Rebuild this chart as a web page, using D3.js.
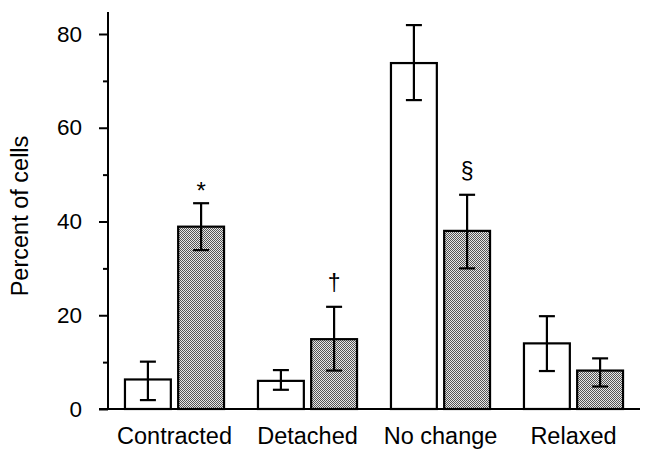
<!DOCTYPE html>
<html><head><meta charset="utf-8">
<script src="https://cdn.jsdelivr.net/npm/d3@7"></script>
<style>body{margin:0;background:#fff}svg{display:block}text{font-family:"Liberation Sans",Arial,sans-serif;fill:#000}</style>
</head><body><svg id="c" width="647" height="449"></svg>
<script>
const categories = ["Contracted", "Detached", "No change", "Relaxed"];
const series = ["control", "treated"];
const controlValues = [6.3, 6.0, 73.8, 14.0];
const controlLow = [1.9, 4.1, 65.9, 8.1];
const controlHigh = [10.1, 8.3, 81.9, 19.8];
const treatedValues = [38.9, 14.9, 38.0, 8.2];
const treatedLow = [33.9, 8.2, 30.0, 4.8];
const treatedHigh = [43.9, 21.8, 45.7, 10.8];
const markers = ["*", "\u2020", "\u00a7", ""];
const yTicks = [0, 20, 40, 60, 80];
const yMinorTicks = [10, 30, 50, 70];

const svg = d3.select("#c");
const defs = svg.append("defs");
const pat = defs.append("pattern").attr("id", "stip").attr("width", 2).attr("height", 2).attr("patternUnits", "userSpaceOnUse");
pat.append("rect").attr("width", 2).attr("height", 2).attr("fill", "#e8e8e8");
pat.append("rect").attr("x", 0).attr("y", 0).attr("width", 1).attr("height", 1).attr("fill", "#555");
pat.append("rect").attr("x", 1).attr("y", 1).attr("width", 1).attr("height", 1).attr("fill", "#555");

const x0 = d3.scaleBand().domain(categories).range([108, 640]).paddingInner(0.24).paddingOuter(0.12);
const x1 = d3.scaleBand().domain(series).range([0, x0.bandwidth()]).paddingInner(0.1);
const y = d3.scaleLinear().domain([0, 80]).range([409, 34]);

const data = categories.flatMap((c, i) => [
  {cat: c, s: "control", v: controlValues[i], lo: controlLow[i], hi: controlHigh[i]},
  {cat: c, s: "treated", v: treatedValues[i], lo: treatedLow[i], hi: treatedHigh[i], m: markers[i]}
]);

// axes
const yAxis = d3.axisLeft(y).tickValues(yTicks).tickSize(9).tickPadding(17).tickFormat(d3.format("d"));
const ga = svg.append("g").attr("transform", "translate(108,0)").call(yAxis);
ga.select(".domain").remove();
ga.selectAll(".tick line").attr("stroke", "#000").attr("stroke-width", 2);
ga.selectAll(".tick text").style("font-size", "22.5px").attr("fill", "#000");
const gm = svg.append("g").attr("transform", "translate(108,0)")
  .call(d3.axisLeft(y).tickValues(yMinorTicks).tickSize(5).tickFormat(""));
gm.select(".domain").remove();
gm.selectAll(".tick line").attr("stroke", "#000").attr("stroke-width", 2);

svg.append("line").attr("x1", 108).attr("x2", 108).attr("y1", 12).attr("y2", y(0) + 1).attr("stroke", "#000").attr("stroke-width", 2);
svg.append("line").attr("x1", 99).attr("x2", 640).attr("y1", y(0)).attr("y2", y(0)).attr("stroke", "#000").attr("stroke-width", 2);

const gx = svg.append("g").attr("transform", `translate(0,${y(0)})`).call(d3.axisBottom(x0).tickSize(0).tickPadding(0));
gx.select(".domain").remove();
gx.selectAll(".tick text").attr("dy", null).attr("y", 35).style("font-size", "23.5px").attr("fill", "#000");

// bars
const bx = d => x0(d.cat) + x1(d.s);
svg.append("g").selectAll("rect").data(data).join("rect")
  .attr("x", d => bx(d) + 1).attr("y", d => y(d.v))
  .attr("width", x1.bandwidth() - 2).attr("height", d => y(0) - y(d.v))
  .attr("fill", d => d.s === "control" ? "#fff" : "url(#stip)")
  .attr("stroke", "#000").attr("stroke-width", 2.2);

// error bars
const cap = 8;
const eg = svg.append("g").attr("stroke", "#000").attr("stroke-width", 2.2);
data.forEach(d => {
  const cx = bx(d) + x1.bandwidth() / 2;
  eg.append("line").attr("x1", cx).attr("x2", cx).attr("y1", y(d.hi)).attr("y2", y(d.lo));
  eg.append("line").attr("x1", cx - cap).attr("x2", cx + cap).attr("y1", y(d.hi)).attr("y2", y(d.hi));
  eg.append("line").attr("x1", cx - cap).attr("x2", cx + cap).attr("y1", y(d.lo)).attr("y2", y(d.lo));
});

// markers
svg.append("g").selectAll("text").data(data.filter(d => d.m)).join("text")
  .attr("x", d => bx(d) + x1.bandwidth() / 2)
  .attr("y", d => y(d.hi) - (d.m === "*" ? 4 : 16))
  .attr("text-anchor", "middle")
  .style("font-size", d => d.m === "*" ? "24px" : "23px")
  .style("font-weight", "normal")
  .text(d => d.m);

// y label
svg.append("text").attr("transform", "translate(28,216) rotate(-90)")
  .attr("text-anchor", "middle").style("font-size", "23.5px").text("Percent of cells");
</script></body></html>
